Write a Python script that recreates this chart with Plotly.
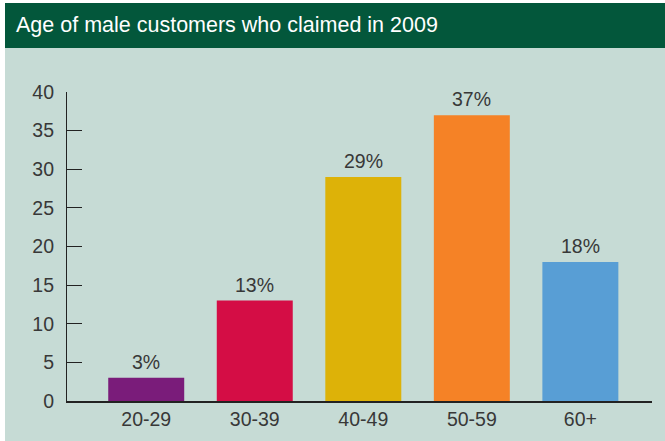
import plotly.graph_objects as go

categories = ["20-29", "30-39", "40-49", "50-59", "60+"]
values = [3, 13, 29, 37, 18]
labels = ["3%", "13%", "29%", "37%", "18%"]
colors = ["#7A1C7A", "#D40D45", "#DDB208", "#F58226", "#589ED5"]
y_ticks = [0, 5, 10, 15, 20, 25, 30, 35, 40]
title = "Age of male customers who claimed in 2009"

FONT = "Liberation Sans, Arial, sans-serif"
TXT = "#383838"
W, H = 665, 441
L, R, T, B = 67, 652, 92, 401

def px(x):
    return (x - L) / (R - L)

def py(y):
    return (B - y) / (B - T)

fig = go.Figure()
fig.add_trace(go.Bar(x=categories, y=values, marker=dict(color=colors, line=dict(width=0)),
                     hoverinfo="skip"))

for c, v, t in zip(categories, values, labels):
    fig.add_annotation(x=c, y=v, text=t, showarrow=False, yanchor="bottom", yshift=3,
                       font=dict(size=19.5, color=TXT, family=FONT))

fig.add_shape(type="rect", xref="paper", yref="paper", x0=px(0) - 0.01, x1=px(5), y0=py(441) - 0.01, y1=py(0) + 0.01,
              fillcolor="white", line=dict(width=0), layer="below")
fig.add_shape(type="rect", xref="paper", yref="paper", x0=px(5), x1=px(666), y0=py(441) - 0.01, y1=py(48),
              fillcolor="#C6DBD5", line=dict(width=0), layer="below")
fig.add_shape(type="rect", xref="paper", yref="paper", x0=px(5), x1=px(666), y0=py(48), y1=py(3),
              fillcolor="#03573B", line=dict(width=0), layer="below")

fig.add_annotation(xref="paper", yref="paper", x=px(14), y=py(25), xanchor="left", yanchor="middle",
                   text=title, showarrow=False,
                   font=dict(size=21.5, color="white", family=FONT))

fig.update_layout(
    width=W, height=H,
    margin=dict(l=L, r=W - R, t=T, b=H - B, pad=0),
    paper_bgcolor="white",
    plot_bgcolor="rgba(0,0,0,0)",
    bargap=0.3,
    showlegend=False,
    font=dict(family=FONT, size=19.5, color=TXT),
    xaxis=dict(range=[-0.73, 4.66], showgrid=False, showline=True, linecolor="#222222", linewidth=1.5,
               ticks="", tickfont=dict(size=19.5, color=TXT), fixedrange=True),
    yaxis=dict(range=[0, 40], tickvals=y_ticks, showgrid=False, zeroline=False, showline=True,
               linecolor="#222222", linewidth=1.2, ticks="inside", ticklen=15, tickcolor="#222222",
               tickwidth=1.2, tickfont=dict(size=19.5, color=TXT), ticklabelstandoff=8,
               fixedrange=True),
)

fig.write_html("out.html", config={"displayModeBar": False},
               post_script="document.body.style.margin='0';document.body.style.padding='0';document.body.style.overflow='hidden';")
